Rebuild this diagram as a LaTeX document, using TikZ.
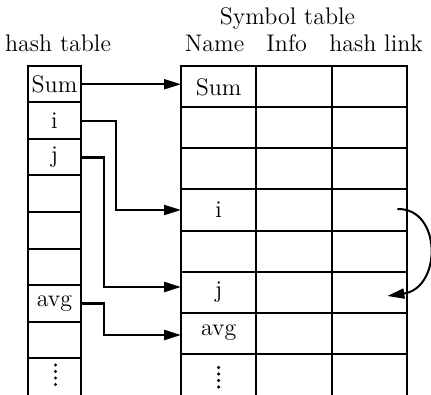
\documentclass[tikz,border=0pt]{standalone}
\usetikzlibrary{arrows.meta,calc}
\begin{document}
\begin{tikzpicture}[x=0.5pt,y=-0.5pt,
  every node/.style={font=\fontsize{12}{14}\selectfont, inner sep=0pt, outer sep=0pt},
  hcell/.style={draw, line width=1pt, minimum width=26.5pt, minimum height=18.25pt},
  scell/.style={draw, line width=1pt, minimum width=37.67pt, minimum height=20.5pt},
  lastrow/.style={minimum height=25pt},
  ptr/.style={line width=1pt, -{Triangle[length=8.5pt,width=5pt]}},
  bptr/.style={ptr, line width=1.3pt},
  vdot/.style={fill, circle, inner sep=0pt, minimum size=1.7pt}
]
\useasboundingbox (0,0) rectangle (431,394);
\fill[white] (0,0) rectangle (431,394);

% headings
\node[anchor=base] (tsym) at (287.5,25) {Symbol table};
\node[anchor=base] (thash) at (58,52) {hash table};
\node[anchor=base] (tname) at (214.5,52) {Name};
\node[anchor=base] (tinfo) at (286.7,52) {Info};
\node[anchor=base] (tlink) at (376,52) {hash link};

% hash table
\node[hcell] (h0) at (54.5,84.25) {Sum};
\node[hcell] (h1) at (54.5,120.75) {i};
\node[hcell] (h2) at (54.5,157.25) {j};
\node[hcell] (h3) at (54.5,193.75) {};
\node[hcell] (h4) at (54.5,230.25) {};
\node[hcell] (h5) at (54.5,266.75) {};
\node[hcell] (h6) at (54.5,303.25) {avg};
\node[hcell] (h7) at (54.5,339.75) {};
\node[hcell,lastrow] (h8) at (54.5,383) {};

% symbol table
\foreach \r/\y/\t in {0/87/Sum,1/128/,2/169/,3/210/i,4/251/,5/292/j,6/333/avg}{
  \node[scell] (s\r0) at (218.67,\y) {\t};
  \node[scell] (s\r1) at (294,\y) {};
  \node[scell] (s\r2) at (369.33,\y) {};
}
\node[scell,lastrow] (s70) at (218.67,378.5) {};
\node[scell,lastrow] (s71) at (294,378.5) {};
\node[scell,lastrow] (s72) at (369.33,378.5) {};

% vertical dots
\foreach \d in {7,13.5,20,26.5}{
  \node[vdot] at ($(h8.north)+(1,\d)$) {};
  \node[vdot] at ($(s70.north)+(0,\d+7)$) {};
}

% pointers
\draw[ptr] (h0.east) -- (h0.east -| s00.west);
\draw[ptr] (h1.east) -- ++(35,0) |- (s30.west);
\draw[bptr] (h2.east) -- ++(23,0) |- ($(s50.west)+(0,-5)$);
\draw[bptr] (h6.east) -- ++(23,0) |- ($(s60.west)+(0,2)$);

% hash link
\draw[ptr] ($(s32.center)+(28,-1)$) .. controls ($(s32.center)+(72.67,-2)$) and ($(s52.center)+(72.67,-4)$) .. ($(s52.center)+(18,4)$);
\end{tikzpicture}
\end{document}
